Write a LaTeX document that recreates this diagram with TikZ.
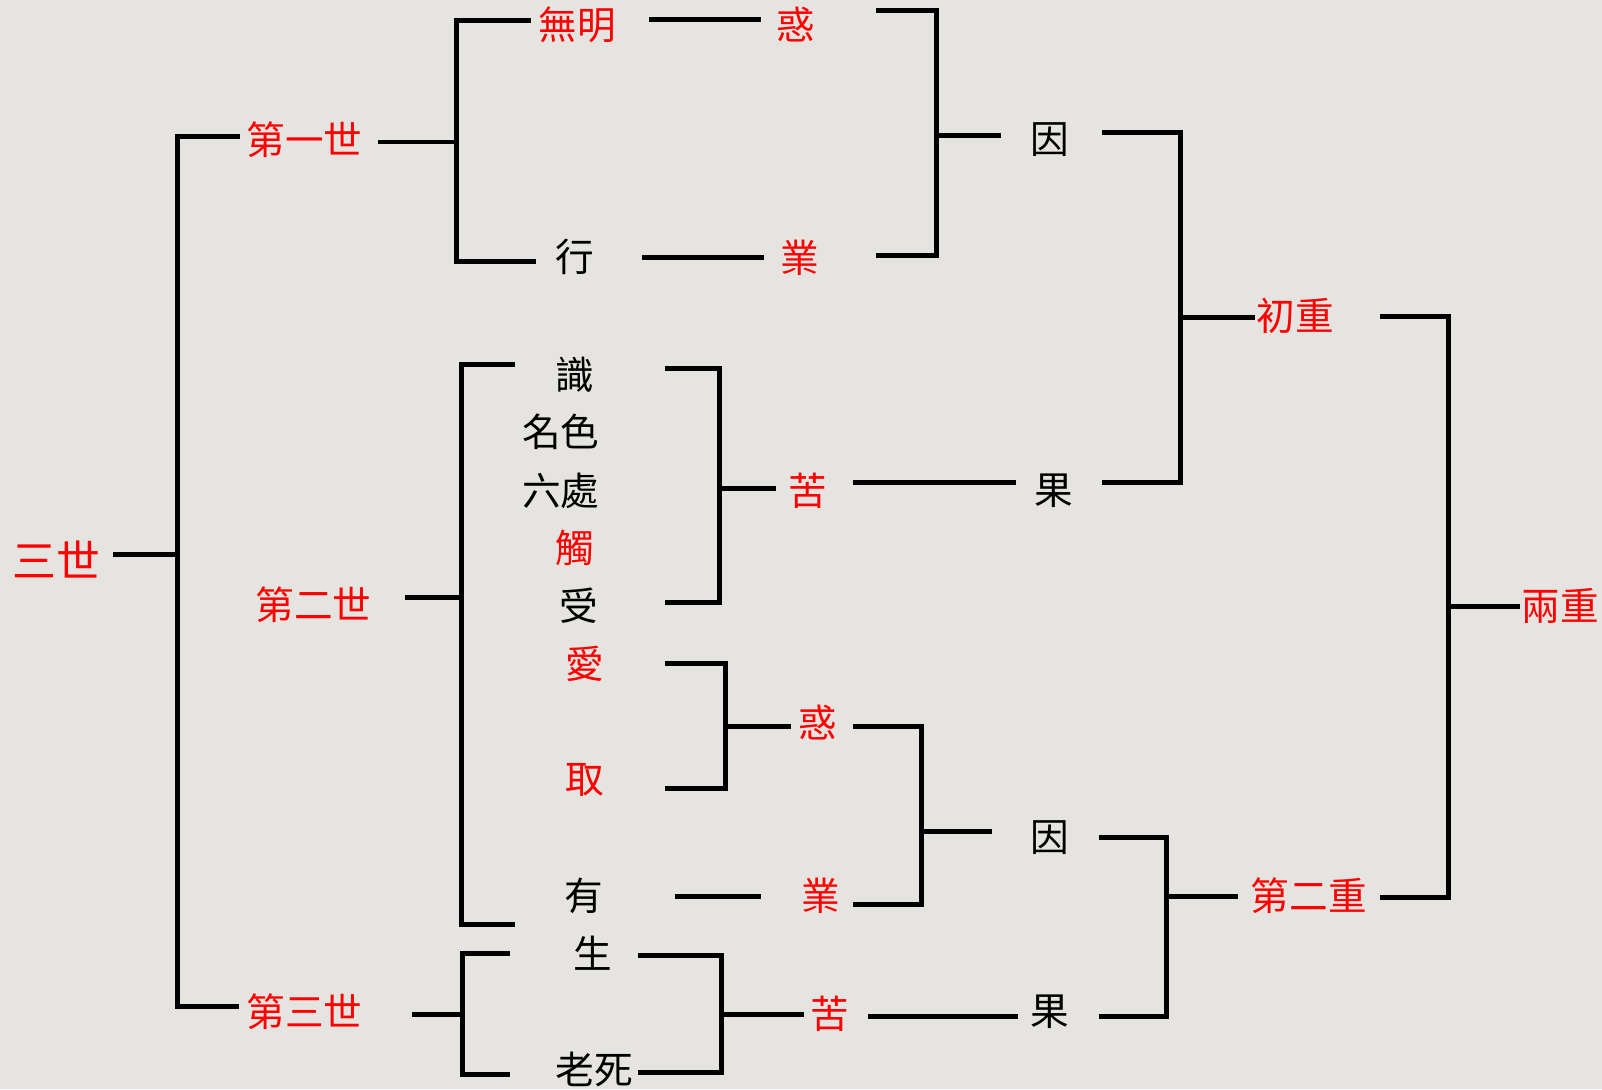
\documentclass[tikz,border=0pt]{standalone}
\usepackage{fontspec}
\setmainfont{Noto Sans CJK TC}
\usepackage{tikz}
\usetikzlibrary{calc}
\definecolor{PaperGrey}{HTML}{E6E4E0}
\definecolor{SutraRed}{HTML}{FF0000}

\begin{document}
\begin{tikzpicture}[x=0.010217cm,y=-0.010217cm,
    term/.style={inner sep=0pt,font=\fontsize{11}{13}\selectfont},
    key/.style={term,text=SutraRed},
    br/.style={line width=1.4pt,black}
  ]
  \fill[PaperGrey] (0,0) rectangle (1568,1066);
  \useasboundingbox (0,0) rectangle (1568,1066);

  % three lives
  \node[key,font=\fontsize{12.5}{15}\selectfont] (sanshi) at (55,548) {三世};
  \node[key] (di1) at (298,137) {第一世};
  \node[key] (di2) at (307,592) {第二世};
  \node[key] (di3) at (298,990) {第三世};

  % twelve links
  \node[key] (wuming) at (565,24) {無明};
  \node[term] (xing) at (563,251) {行};
  \node[term] (shi) at (563,367) {識};
  \node[term] (mingse) at (549,423) {名色};
  \node[term] (liuchu) at (549,480) {六處};
  \node[key] (chu) at (563,536) {觸};
  \node[term] (shou) at (567,593) {受};
  \node[key] (ai) at (572,650) {愛};
  \node[key] (qu) at (572,763) {取};
  \node[term] (you) at (571,877) {有};
  \node[term] (sheng) at (580,933) {生};
  \node[term] (laosi) at (582,1047) {老死};

  % delusion, karma, suffering
  \node[key] (huo1) at (779,24) {惑};
  \node[key] (ye1) at (783,252) {業};
  \node[key] (ku1) at (791,480) {苦};
  \node[key] (huo2) at (800,707) {惑};
  \node[key] (ye2) at (803,877) {業};
  \node[key] (ku2) at (812,992) {苦};

  % cause and effect
  \node[term] (yin1) at (1028,137) {因};
  \node[term] (guo1) at (1031,480) {果};
  \node[term] (yin2) at (1028,820) {因};
  \node[term] (guo2) at (1028,990) {果};
  \node[key] (chuzhong) at (1268,309) {初重};
  \node[key] (dierzhong) at (1281,877) {第二重};
  \node[key] (liangzhong) at (1527,593) {兩重};

  % bracket junctions
  \coordinate (s0) at (174,543);
  \coordinate (s1) at (447,139);
  \coordinate (s2) at (917,133);
  \coordinate (s3) at (1155,311);
  \coordinate (s4) at (1418,594);
  \coordinate (s5) at (452,585);
  \coordinate (s6) at (704,478);
  \coordinate (s7) at (710,711);
  \coordinate (s8) at (902,814);
  \coordinate (s9) at (1142,877);
  \coordinate (s10) at (453,993);
  \coordinate (s11) at (706,993);

  % 三世
  \draw[br] ($(di1.west)+(-6,-3)$) -| (s0) |- ($(di3.west)+(-7,-5)$);
  \draw[br] ($(sanshi.east)+(12,-5)$) -- (s0);

  % 第一世
  \draw[br] ($(wuming.west)+(-7,-4)$) -| (s1) |- ($(xing.west)+(-19,5)$);
  \draw[br] ($(di1.east)+(15,2)$) -- (s1);
  \draw[br] ($(wuming.east)+(32,-5)$) -- ($(huo1.west)+(-15,-5)$);
  \draw[br] ($(xing.east)+(46,1)$) -- ($(ye1.west)+(-16,0)$);
  \draw[br] ($(huo1.east)+(59,-14)$) -| (s2) |- ($(ye1.east)+(55,-2)$);
  \draw[br] (s2) -- ($(yin1.west)+(-29,-4)$);

  % 初重
  \draw[br] ($(yin1.east)+(31,-7)$) -| (s3) |- ($(guo1.east)+(28,-8)$);
  \draw[br] (s3) -- ($(chuzhong.west)+(-1,2)$);
  \draw[br] ($(ku1.east)+(24,-8)$) -- ($(guo1.west)+(-17,-8)$);

  % 兩重
  \draw[br] ($(chuzhong.east)+(44,1)$) -| (s4) |- ($(dierzhong.east)+(12,1)$);
  \draw[br] (s4) -- ($(liangzhong.west)+(-1,1)$);

  % 第二世
  \draw[br] ($(shi.west)+(-39,-10)$) -| (s5) |- ($(you.west)+(-47,28)$);
  \draw[br] ($(di2.east)+(32,-7)$) -- (s5);
  \draw[br] ($(shi.east)+(68,-6)$) -| (s6) |- ($(shou.east)+(64,-3)$);
  \draw[br] (s6) -- ($(ku1.west)+(-12,-2)$);
  \draw[br] ($(ai.east)+(59,-1)$) -| (s7) |- ($(qu.east)+(59,9)$);
  \draw[br] (s7) -- ($(huo2.west)+(-6,4)$);
  \draw[br] ($(you.east)+(70,0)$) -- ($(ye2.west)+(-39,0)$);

  % 第二重
  \draw[br] ($(huo2.east)+(15,4)$) -| (s8) |- ($(ye2.east)+(12,8)$);
  \draw[br] (s8) -- ($(yin2.west)+(-37,-6)$);
  \draw[br] ($(yin2.east)+(28,0)$) -| (s9) |- ($(guo2.east)+(28,5)$);
  \draw[br] (s9) -- ($(dierzhong.west)+(-12,0)$);

  % 第三世
  \draw[br] ($(sheng.west)+(-61,0)$) -| (s10) |- ($(laosi.west)+(-44,5)$);
  \draw[br] ($(di3.east)+(48,3)$) -- (s10);
  \draw[br] ($(sheng.east)+(25,2)$) -| (s11) |- ($(laosi.east)+(4,3)$);
  \draw[br] (s11) -- ($(ku2.west)+(-5,1)$);
  \draw[br] ($(ku2.east)+(18,3)$) -- ($(guo2.west)+(-12,5)$);
\end{tikzpicture}
\end{document}
